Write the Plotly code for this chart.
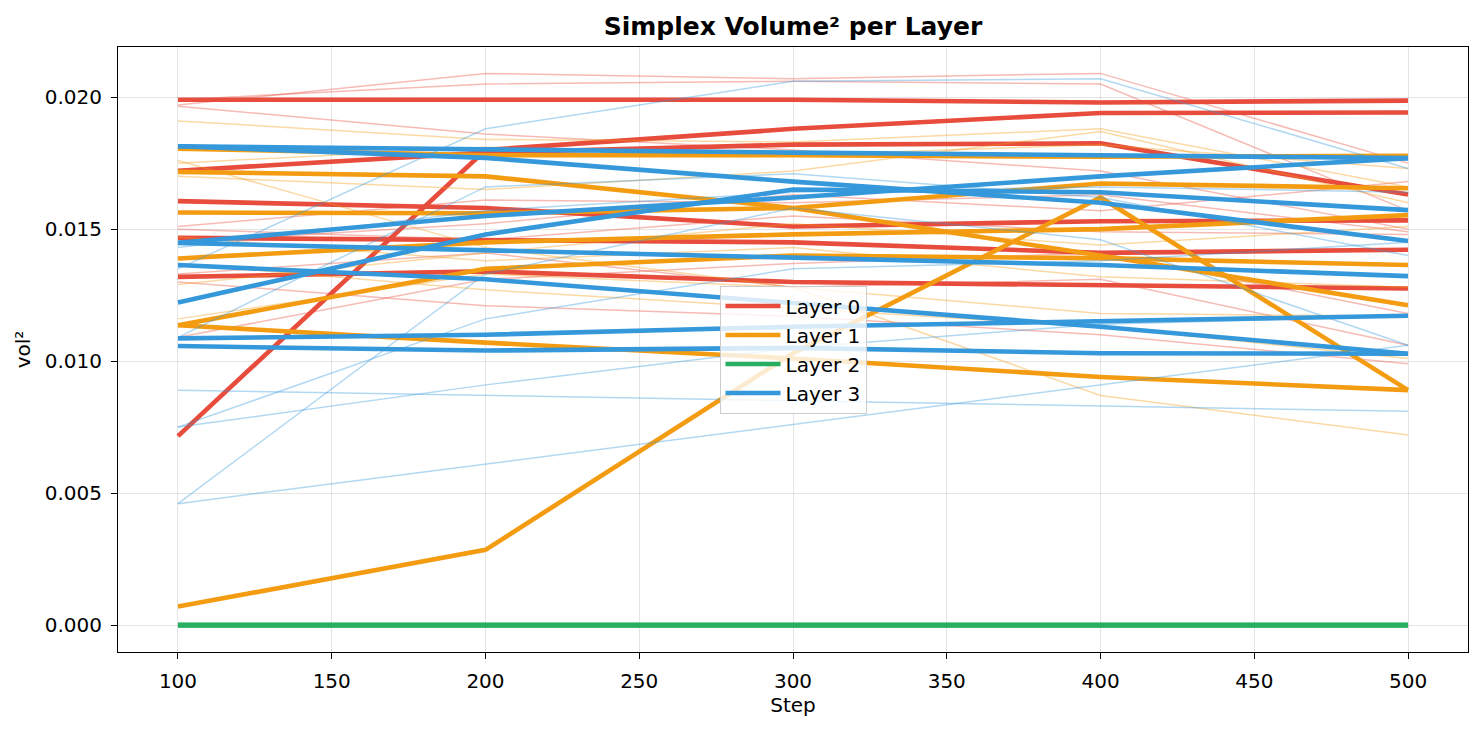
import plotly.graph_objects as go

steps = [100, 200, 300, 400, 500]

layer_names = ["Layer 0", "Layer 1", "Layer 2", "Layer 3"]
colors = ["#e74c3c", "#f39c12", "#27ae60", "#3498db"]
faded = ["rgba(231,76,60,0.38)", "rgba(243,156,18,0.38)", "rgba(39,174,96,0.38)", "rgba(52,152,219,0.38)"]

# thick lines (one per run) for each layer
layer0_main = [
    [0.0199, 0.0199, 0.0199, 0.0198, 0.01987],
    [0.00716, 0.0180, 0.0188, 0.0194, 0.01942],
    [0.01721, 0.0179, 0.0182, 0.01825, 0.01631],
    [0.01606, 0.0158, 0.0151, 0.0153, 0.01533],
    [0.01467, 0.0146, 0.0145, 0.0141, 0.01422],
    [0.01319, 0.0134, 0.0130, 0.01288, 0.01275],
]
layer1_main = [
    [0.01805, 0.0178, 0.0178, 0.01774, 0.01778],
    [0.01717, 0.0170, 0.0158, 0.0140, 0.01212],
    [0.01563, 0.0156, 0.0158, 0.01673, 0.01655],
    [0.01389, 0.0145, 0.0148, 0.0150, 0.01553],
    [0.01136, 0.0135, 0.0140, 0.0139, 0.01364],
    [0.01136, 0.0107, 0.0101, 0.0094, 0.0089],
    [0.0007, 0.00285, 0.0103, 0.0162, 0.0089],
]
layer2_main = [
    [0.0, 0.0, 0.0, 0.0, 0.0],
    [0.0, 0.0, 0.0, 0.0, 0.0],
    [0.0, 0.0, 0.0, 0.0, 0.0],
]
layer3_main = [
    [0.01814, 0.0180, 0.0179, 0.0178, 0.01769],
    [0.01814, 0.0177, 0.0168, 0.0160, 0.01455],
    [0.01448, 0.0155, 0.0162, 0.0170, 0.01769],
    [0.01448, 0.0142, 0.0139, 0.01364, 0.01322],
    [0.01222, 0.0148, 0.0165, 0.0164, 0.01572],
    [0.01364, 0.0131, 0.0122, 0.0113, 0.01028],
    [0.01086, 0.0110, 0.0113, 0.0115, 0.01172],
    [0.01057, 0.0104, 0.0105, 0.0103, 0.01028],
]

# faint lines (individual simplices)
layer0_thin = [
    [0.0197, 0.0209, 0.0207, 0.0209, 0.0175],
    [0.0199, 0.0205, 0.0206, 0.0205, 0.0157],
    [0.01966, 0.0186, 0.0180, 0.0172, 0.0150],
    [0.0151, 0.0161, 0.0160, 0.0163, 0.0149],
    [0.0150, 0.0146, 0.0155, 0.0149, 0.0148],
    [0.0130, 0.0121, 0.0117, 0.0110, 0.0099],
    [0.0109, 0.0131, 0.0137, 0.0141, 0.0118],
    [0.0145, 0.0152, 0.0163, 0.0157, 0.0168],
    [0.0133, 0.0141, 0.0128, 0.0131, 0.0106],
]
layer1_thin = [
    [0.0191, 0.0184, 0.0183, 0.0188, 0.0166],
    [0.0176, 0.0143, 0.0128, 0.0087, 0.0072],
    [0.0175, 0.0181, 0.0178, 0.0182, 0.0173],
    [0.0170, 0.0165, 0.0172, 0.0187, 0.0160],
    [0.0129, 0.0141, 0.0152, 0.0144, 0.0151],
    [0.0116, 0.0133, 0.0128, 0.0118, 0.0117],
    [0.0137, 0.0127, 0.0120, 0.0113, 0.0101],
    [0.0147, 0.0138, 0.0143, 0.0132, 0.0128],
]
layer3_thin = [
    [0.0135, 0.0188, 0.0206, 0.0207, 0.0173],
    [0.0046, 0.0133, 0.0158, 0.0146, 0.0106],
    [0.0046, 0.0061, 0.0076, 0.0091, 0.0106],
    [0.0089, 0.0087, 0.0085, 0.0083, 0.0081],
    [0.0075, 0.0091, 0.0105, 0.0114, 0.0117],
    [0.0075, 0.0116, 0.0135, 0.0138, 0.0145],
    [0.0109, 0.0166, 0.0171, 0.0162, 0.0140],
    [0.0143, 0.0157, 0.0164, 0.0166, 0.0164],
]

main_lines = [layer0_main, layer1_main, layer2_main, layer3_main]
thin_lines = [layer0_thin, layer1_thin, [], layer3_thin]

fig = go.Figure()

for i in range(4):
    for ys in thin_lines[i]:
        fig.add_trace(go.Scatter(
            x=steps, y=ys, mode="lines",
            line=dict(color=faded[i], width=1.5),
            showlegend=False, hoverinfo="skip",
        ))
    for j, ys in enumerate(main_lines[i]):
        fig.add_trace(go.Scatter(
            x=steps, y=ys, mode="lines",
            line=dict(color=colors[i], width=4.6),
            name=layer_names[i], legendgroup=layer_names[i],
            showlegend=(j == 0),
        ))

axis_style = dict(
    showline=True, mirror=True, linecolor="black", linewidth=1,
    ticks="outside", ticklen=6, tickcolor="black",
    showgrid=True, gridcolor="rgba(0,0,0,0.1)", gridwidth=1,
    zeroline=False,
    tickfont=dict(size=20, color="black"),
    ticklabelstandoff=5,
)

# page body has an 8px margin, so the figure is sized to fit the window
fig.update_layout(
    width=1476, height=723,
    margin=dict(l=110, r=16, t=39, b=79),
    plot_bgcolor="white", paper_bgcolor="white",
    font=dict(family="DejaVu Sans", color="black"),
    title=dict(
        text="<b>Simplex Volume² per Layer</b>",
        x=0.5, xref="paper", xanchor="center",
        y=1 - 18 / 723, yanchor="middle",
        font=dict(size=25, color="black"),
    ),
    xaxis=dict(
        axis_style, range=[80.5, 519.5],
        tickvals=[100, 150, 200, 250, 300, 350, 400, 450, 500],
        title=dict(text="Step", font=dict(size=20), standoff=4),
    ),
    yaxis=dict(
        axis_style, range=[-0.00102, 0.0219],
        tickvals=[0.0, 0.005, 0.010, 0.015, 0.020], tickformat=".3f",
        title=dict(text="vol²", font=dict(size=20), standoff=8),
    ),
    legend=dict(
        x=0.5, y=0.5, xanchor="center", yanchor="middle",
        bgcolor="rgba(255,255,255,0.8)", bordercolor="#cccccc", borderwidth=1,
        font=dict(size=20, color="black"),
        tracegroupgap=0, itemwidth=55,
    ),
)

fig.write_html("out.html")
